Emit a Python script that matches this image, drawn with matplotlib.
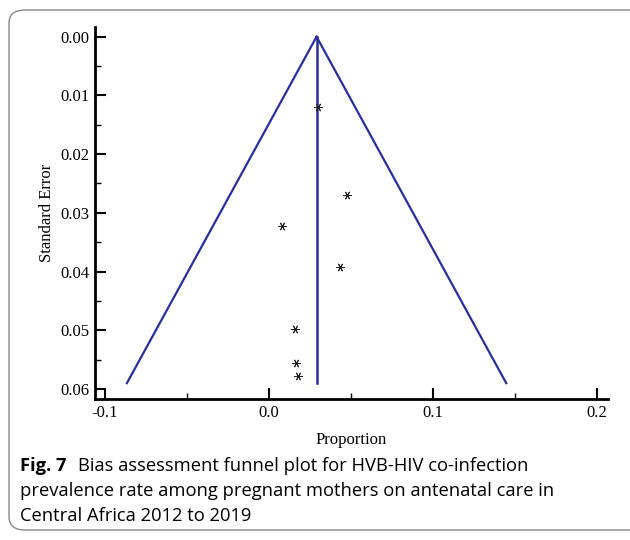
import numpy as np
import matplotlib
matplotlib.use("Agg")
import matplotlib.pyplot as plt
from matplotlib.patches import FancyBboxPatch
from matplotlib.ticker import MultipleLocator

# pooled estimate and study data (proportion, standard error)
pooled = 0.029
se_max = 0.059
proportion = [0.0300, 0.0475, 0.0080, 0.0434, 0.0158, 0.0165, 0.0178]
std_error = [0.0120, 0.0270, 0.0322, 0.0393, 0.0497, 0.0555, 0.0578]

x_ticks = [-0.1, 0.0, 0.1, 0.2]
x_ticklabels = ["-0.1", "0.0", "0.1", "0.2"]
y_ticks = [0.00, 0.01, 0.02, 0.03, 0.04, 0.05, 0.06]
y_ticklabels = ["0.00", "0.01", "0.02", "0.03", "0.04", "0.05", "0.06"]

caption_bold = "Fig. 7"
caption_lines = ["Bias assessment funnel plot for HVB-HIV co-infection",
                 "prevalence rate among pregnant mothers on antenatal care in",
                 "Central Africa 2012 to 2019"]

line_col = "#2a2e9c"
serif = "Liberation Serif"

fig = plt.figure(figsize=(6.3, 5.4), dpi=100)
fig.patch.set_facecolor("white")

# rounded frame around figure
frame = FancyBboxPatch((9 / 630, 10 / 540), 640 / 630, 520 / 540,
                       boxstyle="round,pad=0,rounding_size=0.025",
                       transform=fig.transFigure, fill=False,
                       edgecolor="#8a8a8a", linewidth=1.0)
fig.patches.append(frame)

ax = fig.add_axes([95 / 630, 1 - 399 / 540, 513 / 630, 372 / 540])

# funnel limits (pooled +/- 1.96 SE)
se_line = np.array([0.0, se_max])
ax.plot(pooled - 1.96 * se_line, se_line, color=line_col, lw=1.6)
ax.plot(pooled + 1.96 * se_line, se_line, color=line_col, lw=1.6)
ax.plot([pooled, pooled], [0.0, se_max], color=line_col, lw=1.8)

ax.scatter(proportion, std_error, marker=(6, 2, 90), s=30, color="#222222",
           linewidths=0.7, zorder=3)

ax.set_xlim(-0.1061, 0.2067)
ax.set_ylim(0.0617, -0.00165)

ax.set_xticks(x_ticks)
ax.set_xticklabels(x_ticklabels, family=serif, fontsize=12)
ax.set_yticks(y_ticks)
ax.set_yticklabels(y_ticklabels, family=serif, fontsize=12)
ax.xaxis.set_minor_locator(MultipleLocator(0.05))
ax.yaxis.set_minor_locator(MultipleLocator(0.005))
ax.tick_params(which="major", direction="in", length=8, width=1.5, pad=4)
ax.tick_params(which="minor", direction="in", length=4, width=1.0)

for side in ["top", "right"]:
    ax.spines[side].set_visible(False)
for side in ["left", "bottom"]:
    ax.spines[side].set_linewidth(2.0)

ax.set_xlabel("Proportion", family=serif, fontsize=12, labelpad=8)
ax.set_ylabel("Standard Error", family=serif, fontsize=12, labelpad=4)

# caption
cap_font = "Open Sans"
cap_size = 13.2
fig.text(20 / 630, 1 - 466 / 540, caption_bold, family=cap_font,
         fontweight="bold", fontsize=cap_size, va="center", ha="left")
fig.text(78 / 630, 1 - 466 / 540, caption_lines[0], family=cap_font,
         fontsize=cap_size, va="center", ha="left")
fig.text(20 / 630, 1 - 491 / 540, caption_lines[1], family=cap_font,
         fontsize=cap_size, va="center", ha="left")
fig.text(20 / 630, 1 - 516 / 540, caption_lines[2], family=cap_font,
         fontsize=cap_size, va="center", ha="left")

fig.savefig("out.png", dpi=100)
